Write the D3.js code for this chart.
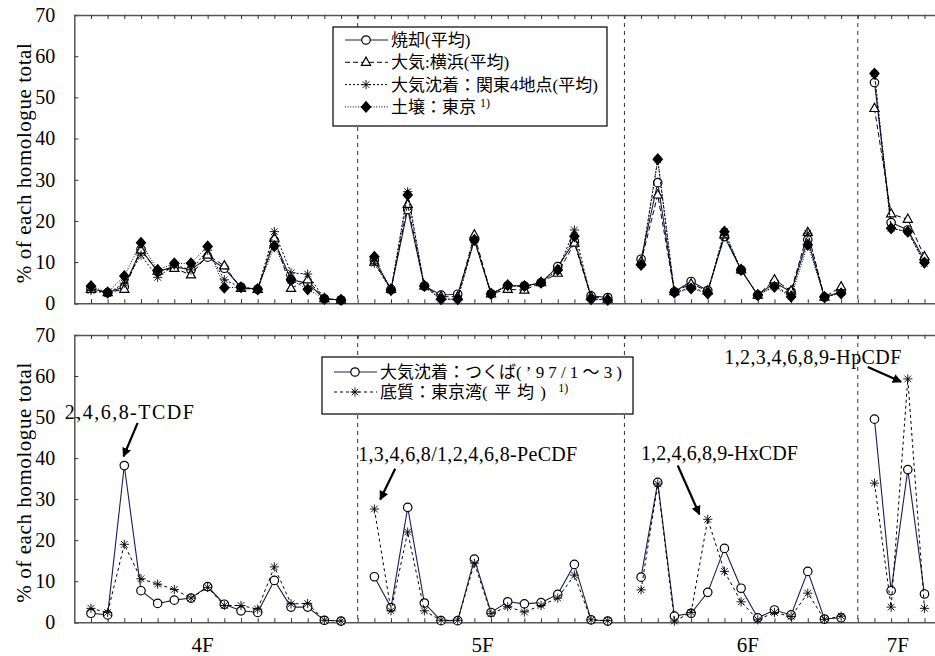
<!DOCTYPE html>
<html>
<head>
<meta charset="utf-8">
<script src="https://cdn.jsdelivr.net/npm/d3@7"></script>
<style>
  body { margin: 0; background: #fff; }
  svg text { font-family: "Liberation Serif", "Times New Roman", "Noto Sans CJK JP", serif; fill: #000; }
</style>
</head>
<body>
<script>
// homologue groups and how many congeners each one has
const groupNames = ["4F", "5F", "6F", "7F"];
const groupSizes = [16, 15, 13, 4];
const yTicks = [0, 10, 20, 30, 40, 50, 60, 70];

// upper panel (% of each homologue total)
const incineration = [
  3.6, 2.6, 4.0, 13.1, 7.7, 8.9, 8.1, 11.2, 8.5, 3.9, 3.4, 15.2, 5.7, 4.9, 1.1, 0.8,
  10.5, 3.4, 22.8, 4.2, 2.0, 2.2, 15.4, 2.3, 4.2, 4.2, 5.0, 8.9, 15.0, 1.8, 1.4,
  10.7, 29.3, 2.8, 5.3, 3.1, 16.2, 8.1, 2.0, 5.0, 2.8, 15.4, 1.5, 2.8,
  53.6, 19.6, 17.8, 10.5
];
const airYokohama = [
  3.4, 2.6, 3.4, 12.9, 7.8, 8.5, 6.9, 11.7, 9.1, 3.6, 3.4, 15.8, 3.6, 5.7, 1.1, 0.8,
  10.0, 3.4, 24.0, 4.2, 1.6, 1.6, 16.6, 2.3, 3.4, 3.2, 5.0, 7.3, 14.6, 1.6, 1.0,
  10.1, 26.3, 2.8, 4.7, 3.0, 16.6, 8.1, 2.0, 5.7, 3.0, 17.2, 1.5, 4.0,
  47.3, 21.7, 20.4, 11.3
];
const depositionKanto = [
  3.1, 2.4, 4.9, 11.7, 6.3, 9.3, 8.1, 12.9, 5.7, 3.9, 3.4, 17.4, 7.4, 7.1, 1.1, 0.8,
  9.7, 3.2, 27.1, 4.0, 1.0, 1.0, 15.4, 2.3, 4.4, 4.0, 5.0, 8.1, 17.8, 1.1, 0.8,
  9.5, 34.8, 2.6, 3.8, 2.6, 17.4, 8.1, 2.0, 4.2, 2.0, 17.0, 1.4, 2.6,
  55.7, 18.2, 17.4, 9.7
];
const soilTokyo = [
  4.2, 2.6, 6.6, 14.7, 8.1, 9.7, 9.7, 13.8, 3.8, 3.9, 3.4, 13.9, 5.7, 3.4, 1.1, 0.8,
  11.3, 3.2, 26.3, 4.2, 1.0, 1.0, 15.4, 2.3, 4.4, 4.2, 5.0, 8.1, 16.3, 1.0, 0.8,
  9.3, 35.0, 2.6, 3.6, 2.4, 17.4, 8.1, 2.0, 4.0, 1.6, 14.2, 1.5, 2.4,
  55.8, 18.2, 17.4, 9.9
];

// lower panel
const depositionTsukuba = [
  2.2, 1.8, 38.2, 7.7, 4.6, 5.4, 5.9, 8.7, 4.4, 2.8, 2.4, 10.2, 3.7, 3.7, 0.5, 0.3,
  11.1, 3.6, 28.0, 4.7, 0.4, 0.4, 15.4, 2.4, 5.0, 4.5, 4.8, 6.8, 14.1, 0.6, 0.3,
  11.0, 34.1, 1.5, 2.2, 7.3, 18.0, 8.3, 1.1, 3.0, 1.8, 12.4, 0.8, 1.1,
  49.5, 7.7, 37.2, 6.9
];
const sedimentTokyoBay = [
  3.4, 2.4, 19.0, 10.6, 9.3, 8.0, 5.9, 8.5, 4.1, 4.1, 3.2, 13.5, 4.5, 4.6, 0.5, 0.3,
  27.6, 2.8, 22.0, 2.8, 0.5, 0.5, 14.4, 2.1, 3.8, 2.5, 4.1, 5.9, 11.5, 0.6, 0.4,
  7.9, 33.7, 0.3, 2.4, 25.1, 12.4, 5.0, 0.6, 2.4, 1.4, 7.1, 0.7, 1.5,
  33.9, 3.7, 59.3, 3.4
];

// callouts in the lower panel: label spot, arrow tail and arrow tip in (slot, %) units
const callouts = [
  { text: "2,4,6,8-TCDF", tx: 2.3, ty: 49.6, x1: 2.8, y1: 48.6, x2: 1.95, y2: 40.4, len: 129 },
  { text: "1,3,4,6,8/1,2,4,6,8-PeCDF", tx: 22.6, ty: 39.2, x1: 18.25, y1: 37.4, x2: 17.35, y2: 29.9, len: 219 },
  { text: "1,2,4,6,8,9-HxCDF", tx: 37.7, ty: 39.6, x1: 35.2, y1: 38.2, x2: 36.5, y2: 26.3, len: 157 },
  { text: "1,2,3,4,6,8,9-HpCDF", tx: 43.3, ty: 63.0, x1: 46.6, y1: 62.2, x2: 48.6, y2: 58.6, len: 177 }
];

const W = 935, H = 656;
const serif = "'Liberation Serif', 'Times New Roman', 'Noto Sans CJK JP', serif";
const svg = d3.select("body").append("svg").attr("width", W).attr("height", H);

// slot of each congener; one empty slot between homologue groups
const slots = [], groupOf = [], separators = [];
let s = 0;
groupSizes.forEach((n, g) => {
  for (let i = 0; i < n; i++) { slots.push(s++); groupOf.push(g); }
  if (g < groupSizes.length - 1) separators.push(s);
  s++;
});

const x = d3.scaleLinear().domain([-1, 51]).range([74.3, 74.3 + 52 * 16.67]);
const navy = "#1c1c5a";

const defs = svg.append("defs");
defs.append("marker").attr("id", "head")
  .attr("viewBox", "0 0 10 10").attr("refX", 9).attr("refY", 5)
  .attr("markerWidth", 4.2).attr("markerHeight", 4.2).attr("markerUnits", "strokeWidth")
  .attr("orient", "auto")
  .append("path").attr("d", "M0,0 L10,5 L0,10 Z").attr("fill", "#000");

function symbolPath(kind) {
  if (kind === "star") {
    const r = 4.6, d = r * 0.72;
    return `M0,${-r}V${r}M${-r},0H${r}M${-d},${-d}L${d},${d}M${-d},${d}L${d},${-d}`;
  }
  if (kind === "circle") return d3.symbol(d3.symbolCircle, 56)();
  if (kind === "triangle") return "M0,-5.2L4.6,3L-4.6,3Z";
  return "M0,-5.2L4.6,0L0,5.2L-4.6,0Z";
}

function markerFill(kind) {
  return kind === "diamond" ? "#000" : (kind === "star" ? "none" : "#fff");
}

function drawPanel(top, bottom, series) {
  const y = d3.scaleLinear().domain([0, 70]).range([bottom, top]);
  const g = svg.append("g");

  // separators between homologue groups
  g.selectAll("line.sep").data(separators).join("line")
    .attr("x1", d => x(d)).attr("x2", d => x(d))
    .attr("y1", top).attr("y2", bottom)
    .attr("stroke", "#333").attr("stroke-width", 1).attr("stroke-dasharray", "4,4");

  // y axis, ticks pointing inwards
  const yAxis = g.append("g").attr("transform", `translate(${x(-1)},0)`)
    .call(d3.axisLeft(y).tickValues(yTicks).tickSize(-4).tickPadding(19));
  yAxis.select(".domain").attr("stroke", "#555").attr("stroke-width", 1.5);
  yAxis.selectAll(".tick line").attr("stroke", "#333");
  yAxis.selectAll("text").attr("font-size", 20).attr("fill", "#000").style("font-family", serif);

  // bottom and top frame with slot ticks
  [[bottom, -4], [top, 4]].forEach(([yy, t]) => {
    const ax = g.append("g").attr("transform", `translate(0,${yy})`)
      .call(d3.axisBottom(x).tickValues(d3.range(0, 51)).tickSize(t).tickSizeOuter(0).tickFormat(""));
    ax.select(".domain").attr("stroke", "#555").attr("stroke-width", 1.5);
    ax.selectAll(".tick line").attr("stroke", "#333");
  });

  svg.append("text")
    .attr("transform", `translate(31,${(top + bottom) / 2 + 4}) rotate(-90)`)
    .attr("text-anchor", "middle").attr("font-size", 21)
    .style("font-family", "'Liberation Serif', serif")
    .attr("textLength", 240).attr("lengthAdjust", "spacing")
    .text("% of each homologue total");

  const line = d3.line().x(d => x(d.slot)).y(d => y(d.v));
  series.forEach(se => {
    const pts = se.values.map((v, i) => ({ v, slot: slots[i], grp: groupOf[i] }));
    const byGroup = d3.groups(pts, d => d.grp).map(e => e[1]);
    const sg = g.append("g");
    sg.selectAll("path.ln").data(byGroup).join("path")
      .attr("d", line).attr("fill", "none")
      .attr("stroke", se.color).attr("stroke-width", se.width)
      .attr("stroke-dasharray", se.dash);
    sg.selectAll("path.mk").data(pts).join("path")
      .attr("transform", d => `translate(${x(d.slot)},${y(d.v)})`)
      .attr("d", symbolPath(se.symbol))
      .attr("fill", markerFill(se.symbol))
      .attr("stroke", "#000").attr("stroke-width", se.symbol === "star" ? 0.9 : 1.2);
  });
  return y;
}

function drawLegend(left, top, w, h, firstRow, rowH, series, fontSize) {
  const g = svg.append("g");
  g.append("rect").attr("x", left).attr("y", top).attr("width", w).attr("height", h)
    .attr("fill", "#fff").attr("stroke", "#000").attr("stroke-width", 1.2);
  series.forEach((se, i) => {
    const cy = top + firstRow + i * rowH;
    g.append("line").attr("x1", left + 12).attr("x2", left + 55).attr("y1", cy).attr("y2", cy)
      .attr("stroke", se.color).attr("stroke-width", se.width).attr("stroke-dasharray", se.dash);
    g.append("path").attr("transform", `translate(${left + 33},${cy})`)
      .attr("d", symbolPath(se.symbol))
      .attr("fill", markerFill(se.symbol))
      .attr("stroke", "#000").attr("stroke-width", se.symbol === "star" ? 0.9 : 1.2);
    const t = g.append("text").attr("x", left + 58).attr("y", cy + 6).attr("font-size", fontSize);
    t.append("tspan").text(se.label);
    if (se.tail) {
      const tp = t.append("tspan").text(se.tail);
      if (se.tailLen) tp.attr("textLength", se.tailLen).attr("lengthAdjust", "spacing");
    }
    if (se.note) t.append("tspan").attr("dy", -6).attr("dx", se.tail ? 6 : 4).attr("font-size", 12).text(se.note);
  });
}

const upperSeries = [
  { label: "焼却(平均)", values: incineration, symbol: "circle", color: navy, width: 1.1, dash: null },
  { label: "大気:横浜(平均)", values: airYokohama, symbol: "triangle", color: "#000", width: 1, dash: "5,3" },
  { label: "大気沈着：関東4地点(平均)", values: depositionKanto, symbol: "star", color: "#000", width: 1, dash: "2,2" },
  { label: "土壌：東京", note: "1)", values: soilTokyo, symbol: "diamond", color: "#000", width: 1, dash: "1,1.6" }
];
const lowerSeries = [
  { label: "大気沈着：つくば", tail: "(’97/1～3)", tailLen: 106, values: depositionTsukuba, symbol: "circle", color: navy, width: 1.1, dash: null },
  { label: "底質：東京湾", tail: "(平均)", tailLen: 64, note: "1)", values: sedimentTokyoBay, symbol: "star", color: "#000", width: 1, dash: "3,3" }
];

drawPanel(15, 303.3, upperSeries);
const yLow = drawPanel(335, 622.3, lowerSeries);

drawLegend(333, 27, 274, 99, 13, 22.3, upperSeries, 17);
drawLegend(322, 357, 311, 57, 15, 20, lowerSeries, 17);

// callouts
callouts.forEach(c => {
  svg.append("text").attr("x", x(c.tx)).attr("y", yLow(c.ty))
    .attr("text-anchor", "middle").attr("font-size", 20).style("font-family", serif)
    .attr("textLength", c.len).attr("lengthAdjust", "spacing").text(c.text);
  svg.append("line")
    .attr("x1", x(c.x1)).attr("y1", yLow(c.y1)).attr("x2", x(c.x2)).attr("y2", yLow(c.y2))
    .attr("stroke", "#000").attr("stroke-width", 2.2).attr("marker-end", "url(#head)");
});

// homologue group labels under the lower panel
const groupLabelSlot = [6.7, 23.5, 39.4, 48.4];
svg.selectAll("text.grp").data(groupNames).join("text")
  .attr("x", (d, i) => x(groupLabelSlot[i])).attr("y", 652)
  .attr("text-anchor", "middle").attr("font-size", 21).style("font-family", serif).text(d => d);
</script>
</body>
</html>
